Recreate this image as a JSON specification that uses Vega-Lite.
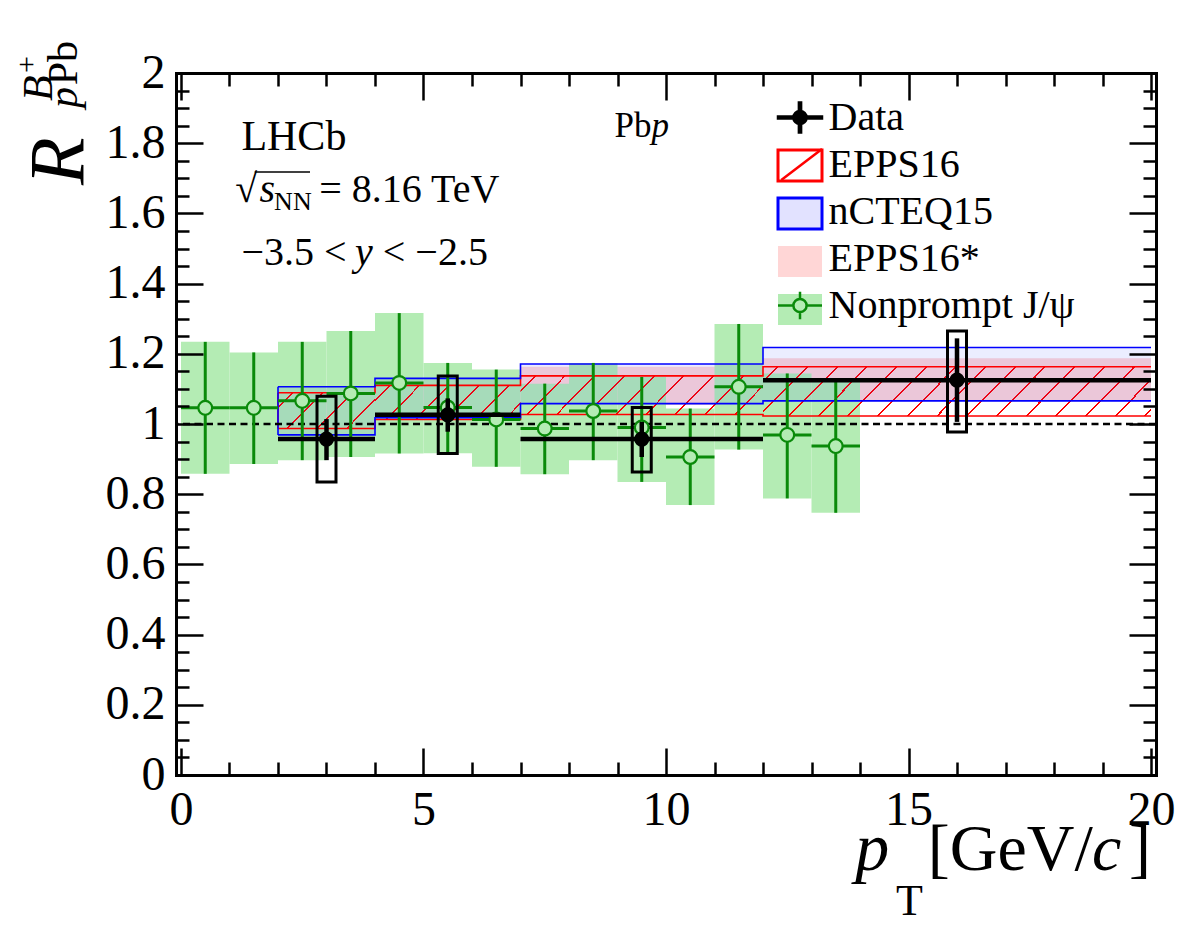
{
"$schema":"https://vega.github.io/schema/vega-lite/v6.json",
"width":980,"height":702,
"autosize":{"type":"none"},
"padding":{"left":176,"top":73,"right":26,"bottom":161},
"background":"white",
"config":{"font":"Liberation Serif","view":{"stroke":null},"axis":{"grid":false}},
"datasets":{
"nonprompt":[
{"pt":0.5,"xlo":0,"xhi":1,"val":1.046,"lo":0.858,"hi":1.234},
{"pt":1.5,"xlo":1,"xhi":2,"val":1.046,"lo":0.886,"hi":1.204},
{"pt":2.5,"xlo":2,"xhi":3,"val":1.066,"lo":0.897,"hi":1.234},
{"pt":3.5,"xlo":3,"xhi":4,"val":1.087,"lo":0.906,"hi":1.265},
{"pt":4.5,"xlo":4,"xhi":5,"val":1.117,"lo":0.916,"hi":1.316},
{"pt":5.5,"xlo":5,"xhi":6,"val":1.047,"lo":0.917,"hi":1.174},
{"pt":6.5,"xlo":6,"xhi":7,"val":1.013,"lo":0.878,"hi":1.155},
{"pt":7.5,"xlo":7,"xhi":8,"val":0.987,"lo":0.857,"hi":1.115},
{"pt":8.5,"xlo":8,"xhi":9,"val":1.037,"lo":0.897,"hi":1.174},
{"pt":9.5,"xlo":9,"xhi":10,"val":0.99,"lo":0.835,"hi":1.134},
{"pt":10.5,"xlo":10,"xhi":11,"val":0.906,"lo":0.769,"hi":1.044},
{"pt":11.5,"xlo":11,"xhi":12,"val":1.106,"lo":0.927,"hi":1.285},
{"pt":12.5,"xlo":12,"xhi":13,"val":0.969,"lo":0.788,"hi":1.144},
{"pt":13.5,"xlo":13,"xhi":14,"val":0.937,"lo":0.747,"hi":1.12}
],
"lhcb":[
{"pt":3,"xlo":2,"xhi":4,"val":0.957,"statlo":0.897,"stathi":1.014,"syslo":0.835,"syshi":1.079},
{"pt":5.5,"xlo":4,"xhi":7,"val":1.026,"statlo":0.978,"stathi":1.073,"syslo":0.916,"syshi":1.137},
{"pt":9.5,"xlo":7,"xhi":12,"val":0.957,"statlo":0.906,"stathi":1.006,"syslo":0.863,"syshi":1.047},
{"pt":16,"xlo":12,"xhi":20,"val":1.125,"statlo":1.006,"stathi":1.244,"syslo":0.977,"syshi":1.265}
],
"epps":[
{"xlo":2,"xhi":4,"lo":0.987,"hi":1.089},
{"xlo":4,"xhi":7,"lo":1.013,"hi":1.11},
{"xlo":7,"xhi":12,"lo":1.027,"hi":1.137},
{"xlo":12,"xhi":20,"lo":1.023,"hi":1.163}
],
"ncteq":[
{"xlo":2,"xhi":4,"lo":0.969,"hi":1.106},
{"xlo":4,"xhi":7,"lo":1.018,"hi":1.13},
{"xlo":7,"xhi":12,"lo":1.058,"hi":1.171},
{"xlo":12,"xhi":20,"lo":1.066,"hi":1.218}
],
"eppsstar":[
{"xlo":2,"xhi":4,"lo":0.99,"hi":1.1},
{"xlo":4,"xhi":7,"lo":1.02,"hi":1.125},
{"xlo":7,"xhi":12,"lo":1.054,"hi":1.163},
{"xlo":12,"xhi":20,"lo":1.068,"hi":1.187}
],
"legend":[
{"series":"Data","series2":"Data"},
{"series":"EPPS16","series2":"EPPS16"},
{"series":"nCTEQ15","series2":"nCTEQ15"},
{"series":"EPPS16*","series2":"EPPS16*"},
{"series":"Nonprompt J/ψ","series2":"Nonprompt J/ψ"}
]
},
"layer":[
{"data":{"name":"eppsstar"},
 "mark":{"type":"rect","fill":"#ffd6d6"},
 "encoding":{
  "x":{"field":"xlo","type":"quantitative","scale":{"domain":[0,20],"nice":false,"zero":false},
       "axis":{"orient":"bottom","values":[0,5,10,15,20],"ticks":false,"domain":false,"labels":true,"labelFont":"Liberation Serif","labelFontSize":48,"labelColor":"black","labelPadding":11,"labelFlush":false,"labelOverlap":false,"title":null,"grid":false}},
  "x2":{"field":"xhi"},
  "y":{"field":"lo","type":"quantitative","scale":{"domain":[0,2],"nice":false,"zero":false},
       "axis":{"orient":"left","values":[0,0.2,0.4,0.6,0.8,1,1.2,1.4,1.6,1.8,2],"format":"~g","ticks":false,"domain":false,"labelFont":"Liberation Serif","labelFontSize":48,"labelColor":"black","labelPadding":11,"labelOverlap":false,"labelBound":false,"title":null,"grid":false}},
  "y2":{"field":"hi"}
 }},
{"data":{"name":"nonprompt"},
 "mark":{"type":"rect","fill":"#b4ecb4"},
 "encoding":{
  "x":{"field":"xlo","type":"quantitative","scale":{"domain":[0,20],"nice":false,"zero":false},
       "axis":{"orient":"bottom","values":[0,5,10,15,20],"labels":false,"ticks":true,"tickSize":-27,"tickWidth":2.5,"tickColor":"black","domain":true,"domainWidth":3,"domainColor":"black","domainCap":"square","title":null,"grid":false,"zindex":1}},
  "x2":{"field":"xhi"},
  "y":{"field":"lo","type":"quantitative","scale":{"domain":[0,2],"nice":false,"zero":false},
       "axis":{"orient":"left","values":[0,0.2,0.4,0.6,0.8,1,1.2,1.4,1.6,1.8,2],"labels":false,"ticks":true,"tickSize":-27,"tickWidth":2.5,"tickColor":"black","domain":true,"domainWidth":3,"domainColor":"black","domainCap":"square","title":null,"grid":false,"zindex":1}},
  "y2":{"field":"hi"}
 }},
{"data":{"name":"epps"},"transform":[{"filter":"datum.xlo == 2"}],
 "mark":{"type":"rect","fill":{"gradient":"linear","x1":0,"y1":0,"x2":1.2046,"y2":0.44,"stops":[
  {"offset":0,"color":"rgba(255,0,0,0)"},
  {"offset":0.1046,"color":"rgba(255,0,0,0)"},{"offset":0.1046,"color":"#ff0000"},{"offset":0.1196,"color":"#ff0000"},{"offset":0.1196,"color":"rgba(255,0,0,0)"},
  {"offset":0.3288,"color":"rgba(255,0,0,0)"},{"offset":0.3288,"color":"#ff0000"},{"offset":0.3438,"color":"#ff0000"},{"offset":0.3438,"color":"rgba(255,0,0,0)"},
  {"offset":0.553,"color":"rgba(255,0,0,0)"},{"offset":0.553,"color":"#ff0000"},{"offset":0.568,"color":"#ff0000"},{"offset":0.568,"color":"rgba(255,0,0,0)"},
  {"offset":0.7773,"color":"rgba(255,0,0,0)"},{"offset":0.7773,"color":"#ff0000"},{"offset":0.7923,"color":"#ff0000"},{"offset":0.7923,"color":"rgba(255,0,0,0)"},
  {"offset":1,"color":"rgba(255,0,0,0)"}]}},
 "encoding":{"x":{"field":"xlo","type":"quantitative","axis":null},"x2":{"field":"xhi"},"y":{"field":"lo","type":"quantitative","axis":null},"y2":{"field":"hi"}}},
{"data":{"name":"epps"},"transform":[{"filter":"datum.xlo == 4"}],
 "mark":{"type":"rect","fill":{"gradient":"linear","x1":0,"y1":0,"x2":1.1688,"y2":0.2703,"stops":[
  {"offset":0,"color":"rgba(255,0,0,0)"},
  {"offset":0.0774,"color":"rgba(255,0,0,0)"},{"offset":0.0774,"color":"#ff0000"},{"offset":0.0884,"color":"#ff0000"},{"offset":0.0884,"color":"rgba(255,0,0,0)"},
  {"offset":0.2431,"color":"rgba(255,0,0,0)"},{"offset":0.2431,"color":"#ff0000"},{"offset":0.2541,"color":"#ff0000"},{"offset":0.2541,"color":"rgba(255,0,0,0)"},
  {"offset":0.4089,"color":"rgba(255,0,0,0)"},{"offset":0.4089,"color":"#ff0000"},{"offset":0.4199,"color":"#ff0000"},{"offset":0.4199,"color":"rgba(255,0,0,0)"},
  {"offset":0.5746,"color":"rgba(255,0,0,0)"},{"offset":0.5746,"color":"#ff0000"},{"offset":0.5856,"color":"#ff0000"},{"offset":0.5856,"color":"rgba(255,0,0,0)"},
  {"offset":0.7404,"color":"rgba(255,0,0,0)"},{"offset":0.7404,"color":"#ff0000"},{"offset":0.7514,"color":"#ff0000"},{"offset":0.7514,"color":"rgba(255,0,0,0)"},
  {"offset":0.9061,"color":"rgba(255,0,0,0)"},{"offset":0.9061,"color":"#ff0000"},{"offset":0.9171,"color":"#ff0000"},{"offset":0.9171,"color":"rgba(255,0,0,0)"},
  {"offset":1,"color":"rgba(255,0,0,0)"}]}},
 "encoding":{"x":{"field":"xlo","type":"quantitative","axis":null},"x2":{"field":"xhi"},"y":{"field":"lo","type":"quantitative","axis":null},"y2":{"field":"hi"}}},
{"data":{"name":"epps"},"transform":[{"filter":"datum.xlo == 7"}],
 "mark":{"type":"rect","fill":{"gradient":"linear","x1":0,"y1":0,"x2":1.1295,"y2":0.178,"stops":[
  {"offset":0,"color":"rgba(255,0,0,0)"},
  {"offset":0.0494,"color":"rgba(255,0,0,0)"},{"offset":0.0494,"color":"#ff0000"},{"offset":0.0564,"color":"#ff0000"},{"offset":0.0564,"color":"rgba(255,0,0,0)"},
  {"offset":0.1552,"color":"rgba(255,0,0,0)"},{"offset":0.1552,"color":"#ff0000"},{"offset":0.1622,"color":"#ff0000"},{"offset":0.1622,"color":"rgba(255,0,0,0)"},
  {"offset":0.261,"color":"rgba(255,0,0,0)"},{"offset":0.261,"color":"#ff0000"},{"offset":0.268,"color":"#ff0000"},{"offset":0.268,"color":"rgba(255,0,0,0)"},
  {"offset":0.3667,"color":"rgba(255,0,0,0)"},{"offset":0.3667,"color":"#ff0000"},{"offset":0.3737,"color":"#ff0000"},{"offset":0.3737,"color":"rgba(255,0,0,0)"},
  {"offset":0.4725,"color":"rgba(255,0,0,0)"},{"offset":0.4725,"color":"#ff0000"},{"offset":0.4795,"color":"#ff0000"},{"offset":0.4795,"color":"rgba(255,0,0,0)"},
  {"offset":0.5783,"color":"rgba(255,0,0,0)"},{"offset":0.5783,"color":"#ff0000"},{"offset":0.5853,"color":"#ff0000"},{"offset":0.5853,"color":"rgba(255,0,0,0)"},
  {"offset":0.6841,"color":"rgba(255,0,0,0)"},{"offset":0.6841,"color":"#ff0000"},{"offset":0.6911,"color":"#ff0000"},{"offset":0.6911,"color":"rgba(255,0,0,0)"},
  {"offset":0.7899,"color":"rgba(255,0,0,0)"},{"offset":0.7899,"color":"#ff0000"},{"offset":0.7969,"color":"#ff0000"},{"offset":0.7969,"color":"rgba(255,0,0,0)"},
  {"offset":0.8957,"color":"rgba(255,0,0,0)"},{"offset":0.8957,"color":"#ff0000"},{"offset":0.9027,"color":"#ff0000"},{"offset":0.9027,"color":"rgba(255,0,0,0)"},
  {"offset":1,"color":"rgba(255,0,0,0)"}]}},
 "encoding":{"x":{"field":"xlo","type":"quantitative","axis":null},"x2":{"field":"xhi"},"y":{"field":"lo","type":"quantitative","axis":null},"y2":{"field":"hi"}}},
{"data":{"name":"epps"},"transform":[{"filter":"datum.xlo == 12"}],
 "mark":{"type":"rect","fill":{"gradient":"linear","x1":0,"y1":0,"x2":1.1079,"y2":0.1388,"stops":[
  {"offset":0,"color":"rgba(255,0,0,0)"},
  {"offset":0.0317,"color":"rgba(255,0,0,0)"},{"offset":0.0317,"color":"#ff0000"},{"offset":0.0363,"color":"#ff0000"},{"offset":0.0363,"color":"rgba(255,0,0,0)"},
  {"offset":0.0997,"color":"rgba(255,0,0,0)"},{"offset":0.0997,"color":"#ff0000"},{"offset":0.1043,"color":"#ff0000"},{"offset":0.1043,"color":"rgba(255,0,0,0)"},
  {"offset":0.1677,"color":"rgba(255,0,0,0)"},{"offset":0.1677,"color":"#ff0000"},{"offset":0.1723,"color":"#ff0000"},{"offset":0.1723,"color":"rgba(255,0,0,0)"},
  {"offset":0.2358,"color":"rgba(255,0,0,0)"},{"offset":0.2358,"color":"#ff0000"},{"offset":0.2404,"color":"#ff0000"},{"offset":0.2404,"color":"rgba(255,0,0,0)"},
  {"offset":0.3038,"color":"rgba(255,0,0,0)"},{"offset":0.3038,"color":"#ff0000"},{"offset":0.3084,"color":"#ff0000"},{"offset":0.3084,"color":"rgba(255,0,0,0)"},
  {"offset":0.3718,"color":"rgba(255,0,0,0)"},{"offset":0.3718,"color":"#ff0000"},{"offset":0.3764,"color":"#ff0000"},{"offset":0.3764,"color":"rgba(255,0,0,0)"},
  {"offset":0.4398,"color":"rgba(255,0,0,0)"},{"offset":0.4398,"color":"#ff0000"},{"offset":0.4444,"color":"#ff0000"},{"offset":0.4444,"color":"rgba(255,0,0,0)"},
  {"offset":0.5078,"color":"rgba(255,0,0,0)"},{"offset":0.5078,"color":"#ff0000"},{"offset":0.5124,"color":"#ff0000"},{"offset":0.5124,"color":"rgba(255,0,0,0)"},
  {"offset":0.5758,"color":"rgba(255,0,0,0)"},{"offset":0.5758,"color":"#ff0000"},{"offset":0.5804,"color":"#ff0000"},{"offset":0.5804,"color":"rgba(255,0,0,0)"},
  {"offset":0.6438,"color":"rgba(255,0,0,0)"},{"offset":0.6438,"color":"#ff0000"},{"offset":0.6484,"color":"#ff0000"},{"offset":0.6484,"color":"rgba(255,0,0,0)"},
  {"offset":0.7119,"color":"rgba(255,0,0,0)"},{"offset":0.7119,"color":"#ff0000"},{"offset":0.7165,"color":"#ff0000"},{"offset":0.7165,"color":"rgba(255,0,0,0)"},
  {"offset":0.7799,"color":"rgba(255,0,0,0)"},{"offset":0.7799,"color":"#ff0000"},{"offset":0.7845,"color":"#ff0000"},{"offset":0.7845,"color":"rgba(255,0,0,0)"},
  {"offset":0.8479,"color":"rgba(255,0,0,0)"},{"offset":0.8479,"color":"#ff0000"},{"offset":0.8525,"color":"#ff0000"},{"offset":0.8525,"color":"rgba(255,0,0,0)"},
  {"offset":0.9159,"color":"rgba(255,0,0,0)"},{"offset":0.9159,"color":"#ff0000"},{"offset":0.9205,"color":"#ff0000"},{"offset":0.9205,"color":"rgba(255,0,0,0)"},
  {"offset":0.9839,"color":"rgba(255,0,0,0)"},{"offset":0.9839,"color":"#ff0000"},{"offset":0.9885,"color":"#ff0000"},{"offset":0.9885,"color":"rgba(255,0,0,0)"},
  {"offset":1,"color":"rgba(255,0,0,0)"}]}},
 "encoding":{"x":{"field":"xlo","type":"quantitative","axis":null},"x2":{"field":"xhi"},"y":{"field":"lo","type":"quantitative","axis":null},"y2":{"field":"hi"}}},
{"data":{"name":"ncteq"},
 "mark":{"type":"rect","fill":"#2233ff","fillOpacity":0.09},
 "encoding":{"x":{"field":"xlo","type":"quantitative","axis":null},"x2":{"field":"xhi"},"y":{"field":"lo","type":"quantitative","axis":null},"y2":{"field":"hi"}}},
{"data":{"name":"epps"},"transform":[{"fold":["xlo","xhi"],"as":["edge","ex"]}],
 "mark":{"type":"line","stroke":"#ff0000","strokeWidth":1.6},
 "encoding":{"x":{"field":"ex","type":"quantitative","axis":null},"y":{"field":"hi","type":"quantitative","axis":null},"order":[{"field":"ex","type":"quantitative"},{"field":"edge","type":"nominal"}]}},
{"data":{"name":"epps"},"transform":[{"fold":["xlo","xhi"],"as":["edge","ex"]}],
 "mark":{"type":"line","stroke":"#ff0000","strokeWidth":1.6},
 "encoding":{"x":{"field":"ex","type":"quantitative","axis":null},"y":{"field":"lo","type":"quantitative","axis":null},"order":[{"field":"ex","type":"quantitative"},{"field":"edge","type":"nominal"}]}},
{"data":{"name":"epps"},"transform":[{"filter":"datum.xlo == 2"}],
 "mark":{"type":"rule","stroke":"#ff0000","strokeWidth":1.6},
 "encoding":{"x":{"field":"xlo","type":"quantitative","axis":null},"y":{"field":"lo","type":"quantitative","axis":null},"y2":{"field":"hi"}}},
{"data":{"name":"ncteq"},"transform":[{"fold":["xlo","xhi"],"as":["edge","ex"]}],
 "mark":{"type":"line","stroke":"#0000ff","strokeWidth":1.6},
 "encoding":{"x":{"field":"ex","type":"quantitative","axis":null},"y":{"field":"hi","type":"quantitative","axis":null},"order":[{"field":"ex","type":"quantitative"},{"field":"edge","type":"nominal"}]}},
{"data":{"name":"ncteq"},"transform":[{"fold":["xlo","xhi"],"as":["edge","ex"]}],
 "mark":{"type":"line","stroke":"#0000ff","strokeWidth":1.6},
 "encoding":{"x":{"field":"ex","type":"quantitative","axis":null},"y":{"field":"lo","type":"quantitative","axis":null},"order":[{"field":"ex","type":"quantitative"},{"field":"edge","type":"nominal"}]}},
{"data":{"name":"ncteq"},"transform":[{"filter":"datum.xlo == 2"}],
 "mark":{"type":"rule","stroke":"#0000ff","strokeWidth":1.6},
 "encoding":{"x":{"field":"xlo","type":"quantitative","axis":null},"y":{"field":"lo","type":"quantitative","axis":null},"y2":{"field":"hi"}}},
{"data":{"values":[{}]},
 "mark":{"type":"rule","stroke":"black","strokeWidth":2.5,"strokeDash":[7,4.5]},
 "encoding":{"y":{"datum":1,"type":"quantitative","axis":null}}},
{"data":{"name":"nonprompt"},
 "mark":{"type":"rule","stroke":"#0a8a0a","strokeWidth":3},
 "encoding":{
  "x":{"field":"pt","type":"quantitative",
       "axis":{"orient":"bottom","values":[1,2,3,4,6,7,8,9,11,12,13,14,16,17,18,19],"labels":false,"ticks":true,"tickSize":-13,"tickWidth":2.5,"tickColor":"black","domain":false,"title":null,"grid":false,"zindex":1}},
  "y":{"field":"lo","type":"quantitative",
       "axis":{"orient":"left","values":[0.05,0.1,0.15,0.25,0.3,0.35,0.45,0.5,0.55,0.65,0.7,0.75,0.85,0.9,0.95,1.05,1.1,1.15,1.25,1.3,1.35,1.45,1.5,1.55,1.65,1.7,1.75,1.85,1.9,1.95],"labels":false,"ticks":true,"tickSize":-13,"tickWidth":2.5,"tickColor":"black","domain":false,"title":null,"grid":false,"zindex":1}},
  "y2":{"field":"hi"}
 }},
{"data":{"name":"nonprompt"},
 "mark":{"type":"rule","stroke":"#0a8a0a","strokeWidth":3},
 "encoding":{
  "x":{"field":"xlo","type":"quantitative",
       "axis":{"orient":"top","values":[0,5,10,15,20],"labels":false,"ticks":true,"tickSize":-27,"tickWidth":2.5,"tickColor":"black","domain":true,"domainWidth":3,"domainColor":"black","domainCap":"square","title":null,"grid":false,"zindex":1}},
  "x2":{"field":"xhi"},
  "y":{"field":"val","type":"quantitative",
       "axis":{"orient":"right","values":[0,0.2,0.4,0.6,0.8,1,1.2,1.4,1.6,1.8,2],"labels":false,"ticks":true,"tickSize":-27,"tickWidth":2.5,"tickColor":"black","domain":true,"domainWidth":3,"domainColor":"black","domainCap":"square","title":null,"grid":false,"zindex":1}}
 }},
{"data":{"name":"nonprompt"},
 "mark":{"type":"point","shape":"circle","size":190,"filled":false,"fill":"#b4ecb4","fillOpacity":1,"stroke":"#0a8a0a","strokeWidth":2.2,"opacity":1},
 "encoding":{
  "x":{"field":"pt","type":"quantitative",
       "axis":{"orient":"top","values":[1,2,3,4,6,7,8,9,11,12,13,14,16,17,18,19],"labels":false,"ticks":true,"tickSize":-13,"tickWidth":2.5,"tickColor":"black","domain":false,"title":null,"grid":false,"zindex":1}},
  "y":{"field":"val","type":"quantitative",
       "axis":{"orient":"right","values":[0.05,0.1,0.15,0.25,0.3,0.35,0.45,0.5,0.55,0.65,0.7,0.75,0.85,0.9,0.95,1.05,1.1,1.15,1.25,1.3,1.35,1.45,1.5,1.55,1.65,1.7,1.75,1.85,1.9,1.95],"labels":false,"ticks":true,"tickSize":-13,"tickWidth":2.5,"tickColor":"black","domain":false,"title":null,"grid":false,"zindex":1}}
 }},
{"data":{"name":"lhcb"},
 "mark":{"type":"bar","size":19,"color":"black","fillOpacity":0,"stroke":"black","strokeWidth":3},
 "encoding":{"x":{"field":"pt","type":"quantitative","axis":null},"y":{"field":"syslo","type":"quantitative","axis":null},"y2":{"field":"syshi"}}},
{"data":{"name":"lhcb"},
 "mark":{"type":"rule","stroke":"black","strokeWidth":4.5},
 "encoding":{"x":{"field":"pt","type":"quantitative","axis":null},"y":{"field":"statlo","type":"quantitative","axis":null},"y2":{"field":"stathi"}}},
{"data":{"name":"lhcb"},
 "mark":{"type":"rule","stroke":"black","strokeWidth":4.5},
 "encoding":{"x":{"field":"xlo","type":"quantitative","axis":null},"x2":{"field":"xhi"},"y":{"field":"val","type":"quantitative","axis":null}}},
{"data":{"name":"lhcb"},
 "mark":{"type":"point","shape":"circle","size":230,"filled":true,"color":"black","opacity":1},
 "encoding":{"x":{"field":"pt","type":"quantitative","axis":null},"y":{"field":"val","type":"quantitative","axis":null}}},
{"data":{"values":[{}]},"mark":{"type":"text","text":"LHCb","align":"left","baseline":"alphabetic","fontSize":42,"font":"Liberation Serif","color":"black"},
 "encoding":{"x":{"datum":1.245,"type":"quantitative","axis":null},"y":{"datum":1.781,"type":"quantitative","axis":null}}},
{"data":{"values":[{}]},"mark":{"type":"text","text":"√","align":"left","baseline":"alphabetic","fontSize":40,"font":"Liberation Serif","color":"black"},
 "encoding":{"x":{"datum":1.12,"type":"quantitative","axis":null},"y":{"datum":1.632,"type":"quantitative","axis":null}}},
{"data":{"values":[{}]},"mark":{"type":"rule","stroke":"black","strokeWidth":1.5},
 "encoding":{"x":{"datum":1.52,"type":"quantitative","axis":null},"x2":{"datum":2.66},"y":{"datum":1.718,"type":"quantitative","axis":null}}},
{"data":{"values":[{}]},"mark":{"type":"text","text":"s","align":"left","baseline":"alphabetic","fontSize":40,"fontStyle":"italic","font":"Liberation Serif","color":"black"},
 "encoding":{"x":{"datum":1.62,"type":"quantitative","axis":null},"y":{"datum":1.632,"type":"quantitative","axis":null}}},
{"data":{"values":[{}]},"mark":{"type":"text","text":"NN","align":"left","baseline":"alphabetic","fontSize":26,"font":"Liberation Serif","color":"black"},
 "encoding":{"x":{"datum":1.92,"type":"quantitative","axis":null},"y":{"datum":1.61,"type":"quantitative","axis":null}}},
{"data":{"values":[{}]},"mark":{"type":"text","text":"= 8.16 TeV","align":"left","baseline":"alphabetic","fontSize":40,"font":"Liberation Serif","color":"black"},
 "encoding":{"x":{"datum":2.85,"type":"quantitative","axis":null},"y":{"datum":1.632,"type":"quantitative","axis":null}}},
{"data":{"values":[{}]},"mark":{"type":"text","text":"−3.5 <","align":"left","baseline":"alphabetic","fontSize":40,"font":"Liberation Serif","color":"black"},
 "encoding":{"x":{"datum":1.245,"type":"quantitative","axis":null},"y":{"datum":1.453,"type":"quantitative","axis":null}}},
{"data":{"values":[{}]},"mark":{"type":"text","text":"y","align":"left","baseline":"alphabetic","fontSize":40,"fontStyle":"italic","font":"Liberation Serif","color":"black"},
 "encoding":{"x":{"datum":3.59,"type":"quantitative","axis":null},"y":{"datum":1.453,"type":"quantitative","axis":null}}},
{"data":{"values":[{}]},"mark":{"type":"text","text":"< −2.5","align":"left","baseline":"alphabetic","fontSize":40,"font":"Liberation Serif","color":"black"},
 "encoding":{"x":{"datum":4.16,"type":"quantitative","axis":null},"y":{"datum":1.453,"type":"quantitative","axis":null}}},
{"data":{"values":[{}]},"mark":{"type":"text","text":"Pb","align":"left","baseline":"alphabetic","fontSize":35,"font":"Liberation Serif","color":"black"},
 "encoding":{"x":{"datum":8.94,"type":"quantitative","axis":null},"y":{"datum":1.818,"type":"quantitative","axis":null}}},
{"data":{"values":[{}]},"mark":{"type":"text","text":"p","align":"left","baseline":"alphabetic","fontSize":35,"fontStyle":"italic","font":"Liberation Serif","color":"black"},
 "encoding":{"x":{"datum":9.7,"type":"quantitative","axis":null},"y":{"datum":1.818,"type":"quantitative","axis":null}}},
{"data":{"values":[{}]},"mark":{"type":"text","text":"p","align":"left","baseline":"alphabetic","fontSize":68,"fontStyle":"italic","font":"Liberation Serif","color":"black"},
 "encoding":{"x":{"datum":13.9,"type":"quantitative","axis":null},"y":{"datum":-0.271,"type":"quantitative","axis":null}}},
{"data":{"values":[{}]},"mark":{"type":"text","text":"T","align":"left","baseline":"alphabetic","fontSize":44,"font":"Liberation Serif","color":"black"},
 "encoding":{"x":{"datum":14.74,"type":"quantitative","axis":null},"y":{"datum":-0.399,"type":"quantitative","axis":null}}},
{"data":{"values":[{}]},"mark":{"type":"text","text":"]","align":"right","baseline":"alphabetic","fontSize":66,"font":"Liberation Serif","color":"black"},
 "encoding":{"x":{"datum":20,"type":"quantitative","axis":null},"y":{"datum":-0.271,"type":"quantitative","axis":null}}},
{"data":{"values":[{}]},"mark":{"type":"text","text":"c","align":"right","baseline":"alphabetic","fontSize":66,"fontStyle":"italic","font":"Liberation Serif","color":"black"},
 "encoding":{"x":{"datum":19.39,"type":"quantitative","axis":null},"y":{"datum":-0.271,"type":"quantitative","axis":null}}},
{"data":{"values":[{}]},"mark":{"type":"text","text":"[GeV/","align":"right","baseline":"alphabetic","fontSize":66,"font":"Liberation Serif","color":"black"},
 "encoding":{"x":{"datum":18.8,"type":"quantitative","axis":null},"y":{"datum":-0.271,"type":"quantitative","axis":null}}},
{"data":{"values":[{}]},"mark":{"type":"text","text":"R","angle":270,"align":"left","baseline":"alphabetic","fontSize":78,"fontStyle":"italic","font":"Liberation Serif","color":"black"},
 "encoding":{"x":{"datum":-2.02,"type":"quantitative","axis":null},"y":{"datum":1.681,"type":"quantitative","axis":null}}},
{"data":{"values":[{}]},"mark":{"type":"text","text":"B","angle":270,"align":"left","baseline":"alphabetic","fontSize":42,"fontStyle":"italic","font":"Liberation Serif","color":"black"},
 "encoding":{"x":{"datum":-2.65,"type":"quantitative","axis":null},"y":{"datum":1.92,"type":"quantitative","axis":null}}},
{"data":{"values":[{}]},"mark":{"type":"text","text":"+","angle":270,"align":"left","baseline":"alphabetic","fontSize":30,"font":"Liberation Serif","color":"black"},
 "encoding":{"x":{"datum":-2.98,"type":"quantitative","axis":null},"y":{"datum":2.0,"type":"quantitative","axis":null}}},
{"data":{"values":[{}]},"mark":{"type":"text","text":"p","angle":270,"align":"left","baseline":"alphabetic","fontSize":42,"fontStyle":"italic","font":"Liberation Serif","color":"black"},
 "encoding":{"x":{"datum":-2.15,"type":"quantitative","axis":null},"y":{"datum":1.9,"type":"quantitative","axis":null}}},
{"data":{"values":[{}]},"mark":{"type":"text","text":"Pb","angle":270,"align":"left","baseline":"alphabetic","fontSize":42,"font":"Liberation Serif","color":"black"},
 "encoding":{"x":{"datum":-2.15,"type":"quantitative","axis":null},"y":{"datum":1.965,"type":"quantitative","axis":null}}},
{"data":{"name":"legend"},
 "mark":{"type":"point","shape":"M-1,-0.7H1V0.7H-1Z","filled":true,"opacity":0},
 "encoding":{
  "fill":{"field":"series","type":"nominal",
    "scale":{"domain":["Data","EPPS16","nCTEQ15","EPPS16*","Nonprompt J/ψ"],"range":["rgba(0,0,0,0)","#ffffff","#e2e2ff","#ffd6d6","#b4ecb4"]},
    "legend":{"orient":"none","legendX":600.5,"legendY":21,"title":null,"padding":0,"symbolSize":1936,"symbolType":"M-1,-0.7H1V0.7H-1Z","symbolStrokeWidth":3,"labelFont":"Liberation Serif","labelFontSize":40,"labelExpr":"''","labelOffset":5,"labelLimit":600,"rowPadding":3,"encode":{"symbols":{"update":{"opacity":{"value":1}}}}}},
  "stroke":{"field":"series","type":"nominal",
    "scale":{"domain":["Data","EPPS16","nCTEQ15","EPPS16*","Nonprompt J/ψ"],"range":["rgba(0,0,0,0)","#ff0000","#0000ff","rgba(0,0,0,0)","rgba(0,0,0,0)"]},
    "legend":{"orient":"none","legendX":600.5,"legendY":21,"title":null,"padding":0,"symbolSize":1936,"symbolType":"M-1,-0.7H1V0.7H-1Z","symbolStrokeWidth":3,"labelFont":"Liberation Serif","labelFontSize":40,"labelExpr":"''","labelOffset":5,"labelLimit":600,"rowPadding":3,"encode":{"symbols":{"update":{"opacity":{"value":1}}}}}}
 }},
{"data":{"name":"legend"},
 "mark":{"type":"point","filled":true,"opacity":0},
 "encoding":{
  "fill":{"field":"series2","type":"nominal",
    "scale":{"domain":["Data","EPPS16","nCTEQ15","EPPS16*","Nonprompt J/ψ"],"range":["#000000","rgba(0,0,0,0)","rgba(0,0,0,0)","rgba(0,0,0,0)","#b4ecb4"]},
    "legend":{"orient":"none","legendX":600.5,"legendY":21,"title":null,"padding":0,"symbolSize":1936,"symbolStrokeWidth":2.5,"labelFont":"Liberation Serif","labelFontSize":40,"labelColor":"black","labelOffset":5,"labelLimit":600,"rowPadding":3,"encode":{"symbols":{"update":{"opacity":{"value":1}}}}}},
  "stroke":{"field":"series2","type":"nominal",
    "scale":{"domain":["Data","EPPS16","nCTEQ15","EPPS16*","Nonprompt J/ψ"],"range":["#000000","#ff0000","rgba(0,0,0,0)","rgba(0,0,0,0)","#0a8a0a"]},
    "legend":{"orient":"none","legendX":600.5,"legendY":21,"title":null,"padding":0,"symbolSize":1936,"symbolStrokeWidth":2.5,"labelFont":"Liberation Serif","labelFontSize":40,"labelColor":"black","labelOffset":5,"labelLimit":600,"rowPadding":3,"encode":{"symbols":{"update":{"opacity":{"value":1}}}}}},
  "shape":{"field":"series2","type":"nominal",
    "scale":{"domain":["Data","EPPS16","nCTEQ15","EPPS16*","Nonprompt J/ψ"],"range":["M-1,-0.05H1V0.05H-1Z M-0.05,-0.68H0.05V0.68H-0.05Z M0.3,0A0.3,0.3 0 1,1 -0.3,0A0.3,0.3 0 1,1 0.3,0Z","M-0.85,0.7L1,-0.7","M0,0","M0,0","M-1,0H-0.3M0.3,0H1M0,-0.62V-0.3M0,0.3V0.62M0.3,0A0.3,0.3 0 1,1 -0.3,0A0.3,0.3 0 1,1 0.3,0Z"]},
    "legend":{"orient":"none","legendX":600.5,"legendY":21,"title":null,"padding":0,"symbolSize":1936,"symbolStrokeWidth":2.5,"labelFont":"Liberation Serif","labelFontSize":40,"labelColor":"black","labelOffset":5,"labelLimit":600,"rowPadding":3,"encode":{"symbols":{"update":{"opacity":{"value":1}}}}}}
 }}
],
"resolve":{"axis":{"x":"independent","y":"independent"},"scale":{"fill":"independent","stroke":"independent","shape":"independent"},"legend":{"fill":"independent","stroke":"independent","shape":"independent"}}
}
